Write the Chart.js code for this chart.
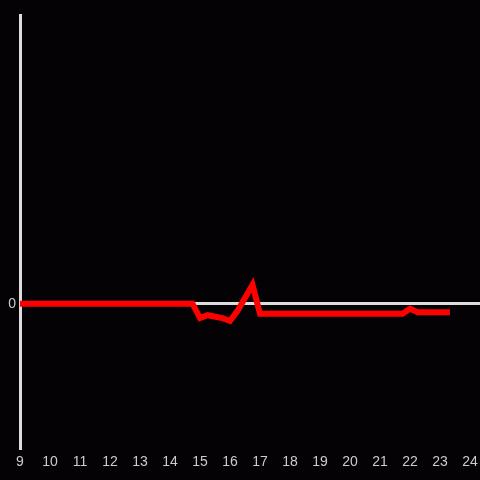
<!DOCTYPE html>
<html>
<head>
<meta charset="utf-8">
<script src="https://cdn.jsdelivr.net/npm/chart.js@4.4.0/dist/chart.umd.min.js"></script>
<style>
html,body{margin:0;padding:0;background:#040205;}
#wrap{width:480px;height:480px;}
</style>
</head>
<body>
<div id="wrap"><canvas id="c" width="480" height="480"></canvas></div>
<script>
const hours = [9, 14.75, 15, 15.25, 15.75, 16, 16.25, 16.75, 17, 21.75, 22, 22.25, 23.33];
const values = [0, 0, -0.1, -0.08, -0.1, -0.12, -0.05, 0.13, -0.07, -0.07, -0.035, -0.06, -0.06];
const xTicks = [9,10,11,12,13,14,15,16,17,18,19,20,21,22,23,24];
const yTicks = [0];

const bg = {
  id: 'bg',
  beforeDraw(chart) {
    const c = chart.ctx;
    c.save();
    c.fillStyle = '#040205';
    c.fillRect(0, 0, chart.width, chart.height);
    c.restore();
  }
};

new Chart(document.getElementById('c'), {
  type: 'line',
  data: {
    datasets: [{
      data: hours.map((h, i) => ({x: h, y: values[i]})),
      borderColor: '#ff0000',
      borderWidth: 6,
      pointRadius: 0,
      tension: 0,
      fill: false
    }]
  },
  options: {
    responsive: false,
    animation: false,
    layout: {padding: {top: 15, right: 0, left: 0, bottom: 0}},
    plugins: {legend: {display: false}, tooltip: {enabled: false}},
    scales: {
      x: {
        type: 'linear',
        min: 9,
        max: 24.333,
        afterBuildTicks(s) { s.ticks = xTicks.map(v => ({value: v})); },
        afterFit(s) { s.height = 32; s.paddingLeft = 0; s.paddingRight = 0; },
        grid: {display: false, drawTicks: false},
        border: {display: false},
        ticks: {
          color: '#cccccc',
          padding: 6,
          maxRotation: 0,
          autoSkip: false,
          font: {family: 'Liberation Sans', size: 14}
        }
      },
      y: {
        min: -1,
        max: 2,
        afterBuildTicks(s) { s.ticks = [-1].concat(yTicks).map(v => ({value: v})); },
        afterFit(s) { s.width = 20; s.paddingTop = 0; s.paddingBottom = 0; },
        grid: {
          drawTicks: false,
          color: (ctx) => (ctx.tick && ctx.tick.value === 0) ? '#dddddd' : 'rgba(0,0,0,0)',
          lineWidth: 3
        },
        border: {display: true, color: '#dddddd', width: 3},
        ticks: {
          color: '#cccccc',
          padding: 4,
          callback: (v) => yTicks.includes(v) ? String(v) : '',
          font: {family: 'Liberation Sans', size: 14}
        }
      }
    }
  },
  plugins: [bg]
});
</script>
</body>
</html>
